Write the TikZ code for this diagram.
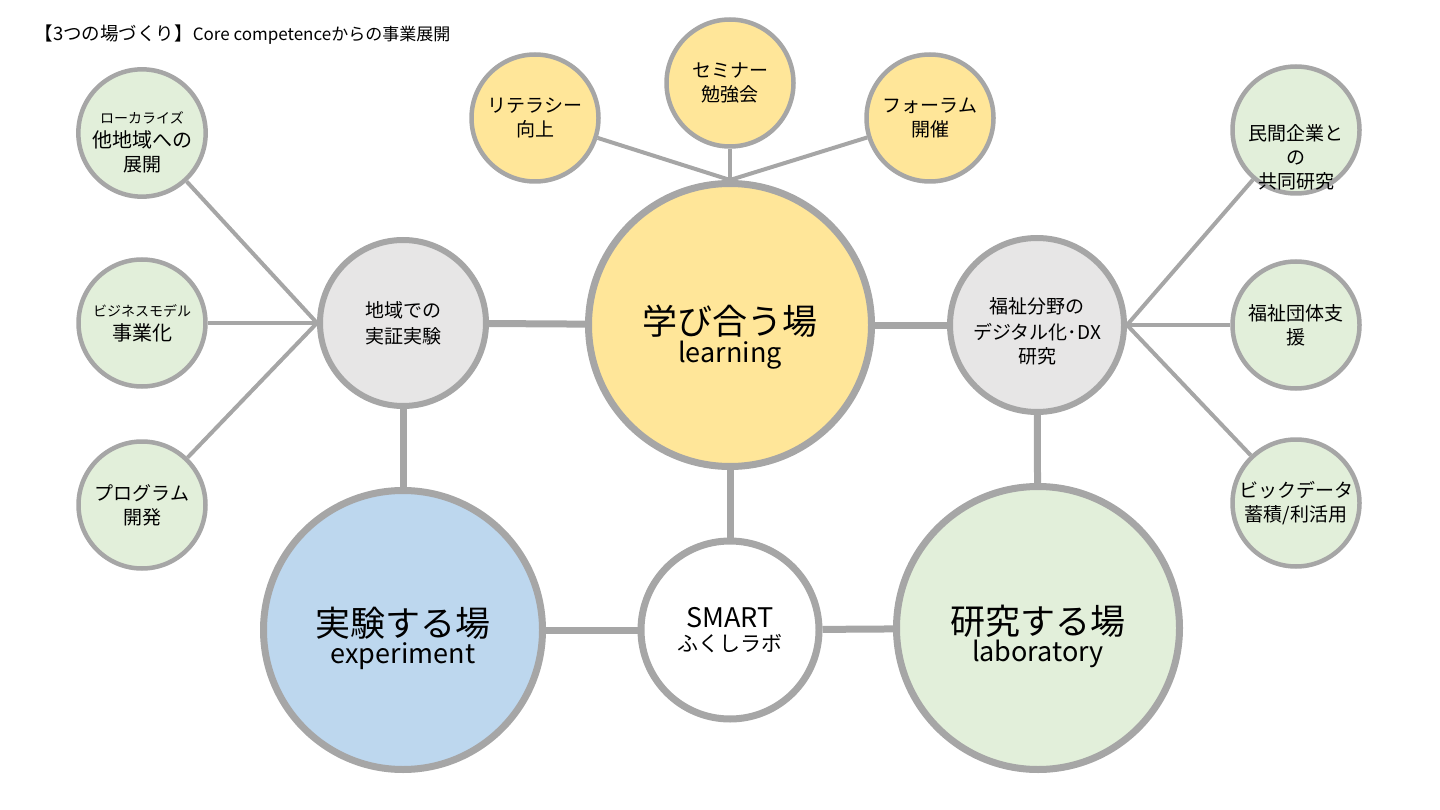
\documentclass[tikz,border=0pt]{standalone}
\usepackage{fontspec}
\setmainfont{Noto Sans CJK JP}
\usepackage{xcolor}
\usepackage{tikz}

\definecolor{rimgray}{HTML}{A6A6A6}
\definecolor{learnyellow}{HTML}{FFE699}
\definecolor{expblue}{HTML}{BDD7EE}
\definecolor{labgreen}{HTML}{E2EFDA}
\definecolor{hubgray}{HTML}{E7E6E6}

\newcommand{\tinyjp}{\fontsize{14}{18}\selectfont}
\newcommand{\smalljp}{\fontsize{19}{24}\selectfont}
\newcommand{\midjp}{\fontsize{20}{25}\selectfont}
\newcommand{\bigjp}{\fontsize{35}{40}\selectfont}
\newcommand{\engjp}{\fontsize{27}{30}\selectfont}
% empty room above the first line, pushes the text down a little
\newcommand{\padtop}[1]{\rule{0pt}{#1}}

\tikzset{
	place/.style={circle,draw=rimgray,line width=7pt,align=center,inner sep=0pt,minimum size=283pt},
	hub/.style={circle,draw=rimgray,line width=6pt,fill=hubgray,align=center,inner sep=0pt},
	topic/.style={circle,draw=rimgray,line width=4.5pt,align=center,inner sep=0pt,minimum size=127pt,font=\smalljp},
	mainlink/.style={rimgray,line width=7pt},
	sublink/.style={rimgray,line width=4pt},
}

\begin{document}
\begin{tikzpicture}[x=1pt,y=-1pt]
	\useasboundingbox (0,0) rectangle (1440,810);
	
	\node[anchor=west] (title) at (31,35) {{\fontsize{18.5}{22}\selectfont 【3つの場づくり】}{\fontsize{17}{20}\selectfont Core competenceからの事業展開}};
	
	% three places
	\node[place,fill=learnyellow] (learn) at (730,325) {\bigjp\padtop{54pt}学び合う場\\[2pt]\engjp learning};
	\node[place,fill=expblue,minimum size=279pt] (exp) at (403,630) {\bigjp\padtop{46pt}実験する場\\[2pt]\engjp experiment};
	\node[place,fill=labgreen] (lab) at (1038,628) {\bigjp\padtop{46pt}研究する場\\[2pt]\engjp laboratory};
	\node[place,fill=white,minimum size=178pt] (smart) at (730,630) {\fontsize{27}{30}\selectfont SMART\\[6pt]\fontsize{21}{26}\selectfont ふくしラボ};
	
	\node[hub,minimum size=166pt,font=\smalljp] (field) at (403,323) {地域での\\[2pt]実証実験};
	\node[hub,minimum size=174pt,font=\smalljp] (dx) at (1037,325) {\padtop{28pt}福祉分野の\\[2pt]デジタル化･DX\\研究};
	
	% learning topics
	\node[topic,fill=learnyellow] (literacy) at (535,118) {リテラシー\\向上};
	\node[topic,fill=learnyellow] (seminar) at (730,83) {セミナー\\勉強会};
	\node[topic,fill=learnyellow] (forum) at (930,118) {フォーラム\\開催};
	
	% experiment topics
	\node[topic,fill=labgreen] (localize) at (142,133) {\tinyjp\padtop{30pt}ローカライズ\\\midjp 他地域への\\展開};
	\node[topic,fill=labgreen] (business) at (142,323) {\tinyjp ビジネスモデル\\\midjp 事業化};
	\node[topic,fill=labgreen] (program) at (142,505) {プログラム\\開発};
	
	% research topics
	\node[topic,fill=labgreen,label={[font=\smalljp,align=center,yshift=-27pt]center:民間企業と\\の\\共同研究}] (company) at (1296,130) {};
	\node[topic,fill=labgreen] (welfare) at (1296,325) {福祉団体支\\援};
	\node[topic,fill=labgreen] (bigdata) at (1296,503) {ビックデータ\\蓄積/利活用};
	
	\draw[mainlink] (learn) -- (field);
	\draw[mainlink] (learn) -- (dx);
	\draw[mainlink] (learn) -- (smart);
	\draw[mainlink] (field) -- (exp);
	\draw[mainlink] (dx) -- (lab);
	\draw[mainlink] (exp) -- (smart);
	\draw[mainlink] (smart) -- (lab);
	
	\foreach \t in {literacy,seminar,forum}
		\draw[sublink] (\t) -- (learn.north);
	\foreach \t in {localize,business,program}
		\draw[sublink] (\t) -- (field.west);
	\foreach \t in {company,welfare,bigdata}
		\draw[sublink] (\t) -- (dx.east);
\end{tikzpicture}
\end{document}
